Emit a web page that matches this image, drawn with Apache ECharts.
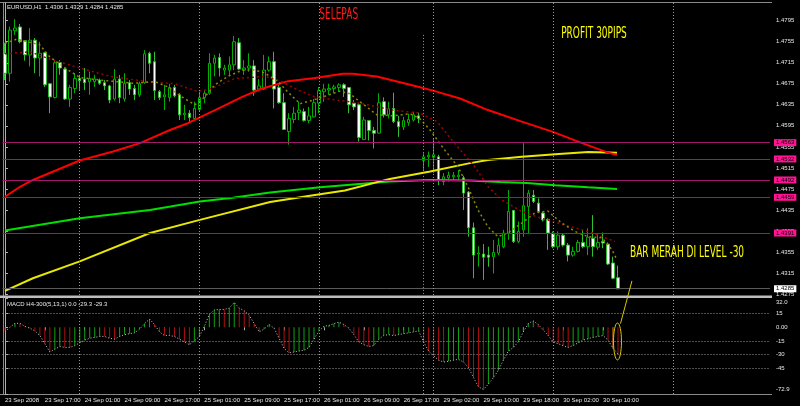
<!DOCTYPE html>
<html><head><meta charset="utf-8">
<script src="https://cdn.jsdelivr.net/npm/echarts@6/dist/echarts.min.js"></script>
<style>html,body{margin:0;padding:0;background:#000}#c{width:800px;height:406px}</style>
</head><body><div id="c"></div>
<script>
// ---------------- DATA ----------------
const symbolName = 'EURUSD,H1';
const macdName = 'MACD H4-300(5,13,1)';
const timeLabels = ['23 Sep 2008','23 Sep 17:00','24 Sep 01:00','24 Sep 09:00','24 Sep 17:00','25 Sep 01:00','25 Sep 09:00','25 Sep 17:00','26 Sep 01:00','26 Sep 09:00','26 Sep 17:00','29 Sep 02:00','29 Sep 10:00','29 Sep 18:00','30 Sep 02:00','30 Sep 10:00'];
const labelStep = 8;      // one time label every 8 hourly bars
const slotCount = 154;    // bars that fit in the window (incl. right shift)

const opens = [
1.4733,1.4695,1.4776,1.4783,1.4757,1.4730,1.4758,1.4724,1.4734,1.4675,
1.4649,1.4715,1.4703,1.4646,1.4666,1.4685,1.4684,1.4679,1.4679,1.4682,
1.4677,1.4671,1.4646,1.4684,1.4646,1.4677,1.4666,1.4654,1.4677,1.4733,
1.4717,1.4660,1.4650,1.4649,1.4668,1.4654,1.4616,1.4619,1.4609,1.4626,
1.4649,1.4657,1.4714,1.4725,1.4701,1.4701,1.4711,1.4753,1.4701,1.4705,
1.4709,1.4665,1.4665,1.4701,1.4717,1.4668,1.4639,1.4584,1.4607,1.4620,
1.4622,1.4605,1.4612,1.4638,1.4660,1.4663,1.4666,1.4668,1.4673,1.4668,
1.4638,1.4635,1.4569,1.4605,1.4586,1.4581,1.4641,1.4616,1.4628,1.4603,
1.4593,1.4601,1.4606,1.4614,1.4529,1.4536,1.4535,1.4536,1.4489,1.4496,
1.4498,1.4498,1.4496,1.4469,1.4401,1.4351,1.4351,1.4349,1.4346,1.4353,
1.4365,1.4391,1.4434,1.4375,1.4397,1.4441,1.4463,1.4448,1.4429,1.4417,
1.4391,1.4365,1.4387,1.4368,1.4349,1.4356,1.4373,1.4365,1.4381,1.4364,
1.4375,1.4370,1.4334,1.4306];
const highs = [
1.4753,1.4784,1.4798,1.4789,1.4758,1.4781,1.4762,1.4755,1.4736,1.4676,
1.4720,1.4720,1.4706,1.4673,1.4695,1.4692,1.4705,1.4698,1.4692,1.4685,
1.4682,1.4673,1.4703,1.4692,1.4695,1.4682,1.4673,1.4679,1.4739,1.4736,
1.4736,1.4663,1.4673,1.4675,1.4673,1.4657,1.4635,1.4625,1.4641,1.4660,
1.4663,1.4733,1.4730,1.4733,1.4711,1.4727,1.4766,1.4762,1.4720,1.4733,
1.4720,1.4684,1.4730,1.4727,1.4736,1.4673,1.4657,1.4619,1.4631,1.4641,
1.4628,1.4631,1.4646,1.4669,1.4675,1.4675,1.4673,1.4676,1.4676,1.4669,
1.4644,1.4638,1.4612,1.4606,1.4593,1.4657,1.4649,1.4641,1.4658,1.4614,
1.4612,1.4618,1.4622,1.4620,1.4543,1.4546,1.4571,1.4540,1.4505,1.4508,
1.4507,1.4511,1.4500,1.4471,1.4411,1.4366,1.4370,1.4365,1.4378,1.4381,
1.4397,1.4473,1.4435,1.4413,1.4562,1.4473,1.4473,1.4457,1.4432,1.4419,
1.4394,1.4394,1.4391,1.4372,1.4365,1.4378,1.4397,1.4400,1.4425,1.4391,
1.4392,1.4373,1.4346,1.4329];
const lows = [
1.4682,1.4679,1.4768,1.4752,1.4719,1.4708,1.4695,1.4689,1.4669,1.4619,
1.4647,1.4692,1.4644,1.4631,1.4657,1.4663,1.4663,1.4654,1.4669,1.4673,
1.4663,1.4638,1.4643,1.4638,1.4641,1.4654,1.4644,1.4650,1.4675,1.4695,
1.4644,1.4644,1.4625,1.4641,1.4649,1.4606,1.4606,1.4600,1.4607,1.4622,
1.4638,1.4654,1.4689,1.4689,1.4692,1.4692,1.4701,1.4701,1.4692,1.4698,
1.4652,1.4663,1.4663,1.4698,1.4628,1.4637,1.4587,1.4559,1.4600,1.4606,
1.4603,1.4600,1.4611,1.4619,1.4641,1.4654,1.4657,1.4660,1.4650,1.4619,
1.4625,1.4565,1.4568,1.4567,1.4552,1.4580,1.4611,1.4609,1.4600,1.4574,
1.4587,1.4595,1.4603,1.4600,1.4511,1.4517,1.4505,1.4482,1.4482,1.4489,
1.4492,1.4492,1.4435,1.4384,1.4305,1.4327,1.4302,1.4327,1.4314,1.4349,
1.4362,1.4378,1.4372,1.4372,1.4384,1.4391,1.4448,1.4429,1.4413,1.4359,
1.4362,1.4359,1.4365,1.4337,1.4346,1.4354,1.4362,1.4349,1.4346,1.4359,
1.4362,1.4330,1.4303,1.4284];
const closes = [
1.4695,1.4777,1.4781,1.4755,1.4730,1.4758,1.4724,1.4733,1.4673,1.4650,
1.4715,1.4705,1.4646,1.4668,1.4685,1.4681,1.4677,1.4685,1.4684,1.4676,
1.4671,1.4644,1.4684,1.4649,1.4676,1.4665,1.4654,1.4675,1.4732,1.4714,
1.4662,1.4649,1.4654,1.4668,1.4652,1.4616,1.4619,1.4611,1.4628,1.4649,
1.4657,1.4714,1.4724,1.4705,1.4705,1.4711,1.4755,1.4703,1.4705,1.4709,
1.4663,1.4671,1.4701,1.4717,1.4665,1.4639,1.4588,1.4609,1.4619,1.4625,
1.4605,1.4614,1.4639,1.4662,1.4665,1.4666,1.4669,1.4673,1.4666,1.4635,
1.4631,1.4573,1.4606,1.4586,1.4581,1.4639,1.4616,1.4628,1.4603,1.4593,
1.4605,1.4607,1.4616,1.4609,1.4536,1.4539,1.4540,1.4492,1.4498,1.4501,
1.4501,1.4501,1.4467,1.4401,1.4349,1.4353,1.4345,1.4345,1.4354,1.4368,
1.4391,1.4432,1.4375,1.4394,1.4443,1.4467,1.4451,1.4432,1.4416,1.4391,
1.4365,1.4387,1.4368,1.4349,1.4356,1.4373,1.4365,1.4383,1.4365,1.4373,
1.4372,1.4332,1.4305,1.4285];

// moving averages, sampled as [bar position, price]
const redMA = [[0,1.4460],[3.0,1.4479],[5.6,1.4492],[15.0,1.4529],[21.7,1.4546],[27.1,1.4562],[33.1,1.4587],[36.7,1.4600],[43.5,1.4631],[47.6,1.4650],[51.6,1.4666],[56.8,1.4680],[62.2,1.4686],[67.8,1.4694],[69.8,1.4694],[74.6,1.4689],[81.3,1.4673],[85.9,1.4662],[91.3,1.4647],[96.9,1.4625],[103.7,1.4603],[109.8,1.4584],[115.8,1.4562],[121.0,1.4544],[122.8,1.4540]];
const yellowMA = [[0,1.4281],[5.6,1.4305],[15.0,1.4337],[29.1,1.4391],[39.1,1.4416],[53.2,1.4450],[61.2,1.4462],[68.2,1.4472],[77.2,1.4494],[85.3,1.4508],[93.3,1.4524],[96.9,1.4530],[103.7,1.4536],[110.4,1.4541],[117.0,1.4545],[122.8,1.4544]];
const greenMA = [[0,1.4396],[15.0,1.4419],[29.1,1.4435],[39.1,1.4451],[45.7,1.4458],[53.2,1.4468],[63.2,1.4478],[77.2,1.4489],[85.3,1.4492],[93.3,1.4491],[99.3,1.4488],[104.7,1.4486],[110.4,1.4482],[117.0,1.4478],[122.8,1.4475]];
const slowDottedMA = [[0,1.4732],[5.0,1.4736],[9.0,1.4722],[15.0,1.4705],[21.1,1.4689],[28.5,1.4679],[34.1,1.4675],[38.7,1.4660],[41.5,1.4666],[46.1,1.4685],[52.2,1.4689],[55.6,1.4679],[58.8,1.4663],[62.2,1.4650],[66.6,1.4644],[71.2,1.4638],[77.8,1.4625],[83.3,1.4619],[86.7,1.4603],[89.9,1.4565],[94.3,1.4517],[96.9,1.4479],[99.7,1.4454],[103.7,1.4432],[107.7,1.4419],[112.4,1.4406],[117.0,1.4394],[122.4,1.4375]];
const fastDottedMA = [[0,1.4752],[2.4,1.4760],[7.0,1.4749],[9.0,1.4726],[12.4,1.4703],[15.0,1.4687],[19.1,1.4682],[25.7,1.4676],[30.1,1.4679],[32.7,1.4669],[35.5,1.4650],[38.1,1.4635],[40.1,1.4650],[42.1,1.4673],[44.7,1.4689],[47.6,1.4701],[50.2,1.4701],[52.2,1.4695],[54.8,1.4679],[56.8,1.4659],[59.2,1.4637],[61.8,1.4644],[63.8,1.4650],[67.2,1.4661],[69.2,1.4656],[71.2,1.4641],[74.6,1.4616],[77.8,1.4614],[81.3,1.4618],[83.3,1.4608],[85.3,1.4587],[87.9,1.4553],[90.9,1.4517],[92.9,1.4479],[94.9,1.4435],[96.9,1.4403],[98.9,1.4384],[100.9,1.4391],[103.7,1.4410],[106.3,1.4429],[108.9,1.4433],[111.7,1.4410],[114.4,1.4394],[117.0,1.4384],[119.8,1.4382],[121.8,1.4359],[122.8,1.4340]];

const macd = [
-4.7,0,4.3,4.3,1,-1,-4,-9,-18,-27,
-24,-21,-22,-22,-20,-17,-14,-12,-11,-10,
-10,-12,-13,-10,-8,-7,-6,-2,4,9,
3,-5,-9,-9,-10,-13,-16,-19,-15,-10,
1,14,19,19.5,19.5,21,27,21,18,13,
4,-5,-2,3,-1,-12,-23,-28,-27,-26,
-25,-22,-13,-4,1,2,4,5.6,3,-1,
-8,-16,-19,-21,-20,-13,-9,-8,-9,-8,
-7,-6,-5,-4,-16,-26,-31,-36,-38,-37,
-36,-35,-38,-44,-55,-65,-68,-62,-55,-47,
-36,-26,-22,-16,-5,4,7,3,-3,-9,
-16,-18,-20,-22,-20,-17,-14,-12.5,-11,-10,
-9,-14,-23,-29.3];

const priceTicks = [1.4275,1.4315,1.4355,1.4395,1.4435,1.4475,1.4515,1.4555,1.4595,1.4635,1.4675,1.4715,1.4755,1.4795];
const levelLines = [1.4563,1.4532,1.4492,1.4459,1.4391];
const macdTicks = [32.0,15,0,-15,-30,-45,-72.9];
const macdLevels = [15,-15,-30,-45];
const daySeparators = [15,39,63,86,110,134];   // first bar of each day
const markerBar = 84;                          // vertical line object (Sunday open)
const markerTopPrice = 1.4768;
const annotatedBar = 122;

const notes = [
  {text:'SELEPAS', at:[63.06,1.4805], color:'#ff1a1a'},
  {text:'PROFIT 30PIPS', at:[111.6,1.4769], color:'#ffff00'},
  {text:'BAR MERAH DI LEVEL -30', at:[125.4,1.4353], color:'#ffff00'}
];
const ellipseBox = {x:[122.1,123.7], y:[4.7,-35.7]};
const connector = {from:[123.5,4.0], to:[125.8,1.4300]};

// ---------------- CHART ----------------
const GL = 2.5, PW = 767.5, MT = 3, MH = 292, ST = 298, SH = 96;
const FONT = 'Liberation Sans';
const TXT = '#e8e8e8';
const cats = Array.from({length: slotCount}, (_, i) => String(i));
const last = opens.length - 1;
const candleData = opens.map((o, i) => [o, closes[i], lows[i], highs[i]]);
const macdBars = macd.map((v, i) => ({
  value: v,
  itemStyle: {color: i === annotatedBar ? '#ff8000' : (i > 0 && v > macd[i-1] ? '#14a014' : '#b01010')}
}));
const sepStyle = {color:'#9a9a9a', type:[1,2], width:1};
const macdMin = macdTicks[macdTicks.length-1], macdMax = macdTicks[0];

const maLine = (data, color, width, type) => ({
  type:'line', xAxisIndex:2, yAxisIndex:0, data, symbol:'none', silent:true,
  lineStyle:{color, width, type}, z:3
});

const redSeries = maLine(redMA, '#ff0000', 2, 'solid');
redSeries.markLine = {
  silent:true, symbol:['none','none'], animation:false, precision:4,
  label:{show:false},
  data: daySeparators.map(v => ({xAxis:v, lineStyle:sepStyle})).concat([[
    {coord:[markerBar, markerTopPrice], lineStyle:sepStyle},
    {coord:[markerBar, 1.42731]}
  ]])
};

const chart = echarts.init(document.getElementById('c'));
const option = {
  backgroundColor:'#000',
  animation:false,
  grid:[
    {left:GL, top:MT, width:PW, height:MH},
    {left:GL, top:ST, width:PW, height:SH}
  ],
  xAxis:[
    {type:'category', gridIndex:0, data:cats, boundaryGap:true, show:false},
    {type:'category', gridIndex:1, data:cats, boundaryGap:true,
      axisLine:{show:false},
      axisTick:{show:true, alignWithLabel:true, length:3, inside:false,
        interval:(i)=> i % labelStep === 0 && i / labelStep < timeLabels.length,
        lineStyle:{color:'#b0b0b0'}},
      axisLabel:{show:true, interval:(i)=> i % labelStep === 0 && i / labelStep < timeLabels.length,
        formatter:(v)=> timeLabels[Number(v) / labelStep] || '',
        align:'left', color:TXT, fontSize:6, fontFamily:FONT, margin:3},
      splitLine:{show:false}},
    {type:'value', gridIndex:0, min:-0.5, max:slotCount-0.5, show:false},
    {type:'value', gridIndex:1, min:-0.5, max:slotCount-0.5, show:false}
  ],
  yAxis:[
    {type:'value', gridIndex:0, position:'right', offset:2, min:1.42731, max:1.48287, scale:true,
      axisLine:{show:true, lineStyle:{color:'#b0b0b0'}},
      axisTick:{show:true, length:3, customValues:priceTicks, lineStyle:{color:'#b0b0b0'}},
      axisLabel:{customValues:priceTicks, formatter:(v)=>v.toFixed(4), color:TXT, fontSize:6, fontFamily:FONT, margin:4},
      splitLine:{show:false}},
    {type:'value', gridIndex:1, position:'right', offset:2, min:macdMin, max:macdMax,
      axisLine:{show:true, lineStyle:{color:'#b0b0b0'}},
      axisTick:{show:true, length:3, customValues:macdTicks, lineStyle:{color:'#b0b0b0'}},
      axisLabel:{customValues:macdTicks, color:TXT, fontSize:6, fontFamily:FONT, margin:4,
        formatter:(v)=> {
          if (v === macdMin) return '{lo|' + v.toFixed(1) + '}';
          if (v === macdMax) return '{hi|' + v.toFixed(1) + '}';
          return v === 0 ? '0.00' : String(v);
        },
        rich:{
          lo:{color:TXT, fontSize:6, fontFamily:FONT, padding:[0,0,9,0]},
          hi:{color:TXT, fontSize:6, fontFamily:FONT, padding:[9,0,0,0]}
        }},
      splitLine:{show:false}}
  ],
  series:[
    {type:'candlestick', xAxisIndex:0, yAxisIndex:0, data:candleData, barWidth:3, silent:true,
      itemStyle:{color:'#000000', color0:'#ffffff', borderColor:'#00b000', borderColor0:'#2fbf2f', borderWidth:1},
      markLine:{silent:true, symbol:['none','none'], animation:false, precision:4,
        data: levelLines.map(v => ({yAxis:v,
          lineStyle:{color:'#a0186a', width:1, type:'solid'},
          label:{show:true, position:'end', distance:4, formatter:(p)=>Number(p.value).toFixed(4),
            color:'#000', backgroundColor:'#ff1493', fontSize:6, fontFamily:FONT, padding:[1,2,0,2]}}))
        .concat([{yAxis:closes[last],
          lineStyle:{color:'#5a5a5a', width:1, type:'solid'},
          label:{show:true, position:'end', distance:4, formatter:(p)=>Number(p.value).toFixed(4),
            color:'#000', backgroundColor:'#ffffff', fontSize:6, fontFamily:FONT, padding:[1,2,0,2]}}])
      }, z:2},
    maLine(greenMA, '#00e000', 2, 'solid'),
    maLine(yellowMA, '#e8e800', 2, 'solid'),
    redSeries,
    maLine(slowDottedMA, '#a00000', 1.5, [2,3]),
    maLine(fastDottedMA, '#8c8c00', 1.5, [2,3]),
    {type:'bar', xAxisIndex:1, yAxisIndex:1, data:macdBars, barWidth:1, silent:true,
      markLine:{silent:true, symbol:['none','none'], animation:false, precision:2, label:{show:false},
        data: macdLevels.map(v => ({yAxis:v, lineStyle:sepStyle}))}},
    {type:'line', xAxisIndex:3, yAxisIndex:1, data: macd.map((v,i)=>[i,v]), symbol:'none', silent:true,
      lineStyle:{color:'#c8c8c8', width:1, type:[1,2]}, z:4,
      markLine:{silent:true, symbol:['none','none'], animation:false, precision:2, label:{show:false},
        data: daySeparators.concat([markerBar]).map(v => ({xAxis:v, lineStyle:sepStyle}))}}
  ]
};
chart.setOption(option);

// annotations & chrome (positions derived from data coordinates)
const mainPx = (x, y) => chart.convertToPixel({xAxisIndex:2, yAxisIndex:0}, [x, y]);
const subPx = (x, y) => chart.convertToPixel({xAxisIndex:3, yAxisIndex:1}, [x, y]);
const fmt = v => v.toFixed(4);
const g = [];
const AX = GL + PW + 2;
// frame
g.push({type:'line', shape:{x1:0, y1:2.5, x2:AX, y2:2.5}, style:{stroke:'#8a8a8a', lineWidth:1}, silent:true});
g.push({type:'line', shape:{x1:3.5, y1:2.5, x2:3.5, y2:ST+SH}, style:{stroke:'#8a8a8a', lineWidth:1}, silent:true});
g.push({type:'rect', shape:{x:0, y:MT+MH+0.5, width:AX, height:2.5}, style:{fill:'#bdbdbd'}, silent:true});
g.push({type:'line', shape:{x1:0, y1:ST+SH+0.5, x2:AX, y2:ST+SH+0.5}, style:{stroke:'#8a8a8a', lineWidth:1}, silent:true});
// titles
g.push({type:'text', x:7, y:7, silent:true, style:{text:`${symbolName}  ${fmt(opens[last])} ${fmt(highs[last])} ${fmt(lows[last])} ${fmt(closes[last])}`, fill:TXT, font:`6px "${FONT}"`, align:'left', verticalAlign:'middle'}, z:50});
const lm = macd[last].toFixed(1);
g.push({type:'text', x:7, y:ST+6, silent:true, style:{text:`${macdName} 0.0 ${lm} ${lm}`, fill:TXT, font:`6px "${FONT}"`, align:'left', verticalAlign:'middle'}, z:50});
// text notes
notes.forEach(n => {
  const p = mainPx(n.at[0], n.at[1]);
  g.push({type:'text', x:p[0], y:p[1], scaleX:0.6, silent:true,
    style:{text:n.text, fill:n.color, font:`15px "DejaVu Sans"`, align:'left', verticalAlign:'middle'}, z:60});
});
// ellipse + connector
const e1 = subPx(ellipseBox.x[0], ellipseBox.y[0]);
const e2 = subPx(ellipseBox.x[1], ellipseBox.y[1]);
g.push({type:'ellipse', silent:true, shape:{cx:(e1[0]+e2[0])/2, cy:(e1[1]+e2[1])/2, rx:Math.abs(e2[0]-e1[0])/2, ry:Math.abs(e2[1]-e1[1])/2},
  style:{fill:'none', stroke:'#d8c800', lineWidth:1}, z:60});
const c1 = subPx(connector.from[0], connector.from[1]);
const c2 = mainPx(connector.to[0], connector.to[1]);
g.push({type:'line', silent:true, shape:{x1:c1[0], y1:c1[1], x2:c2[0], y2:c2[1]}, style:{stroke:'#d8c800', lineWidth:1}, z:60});
chart.setOption({graphic:g});
</script>
</body></html>
